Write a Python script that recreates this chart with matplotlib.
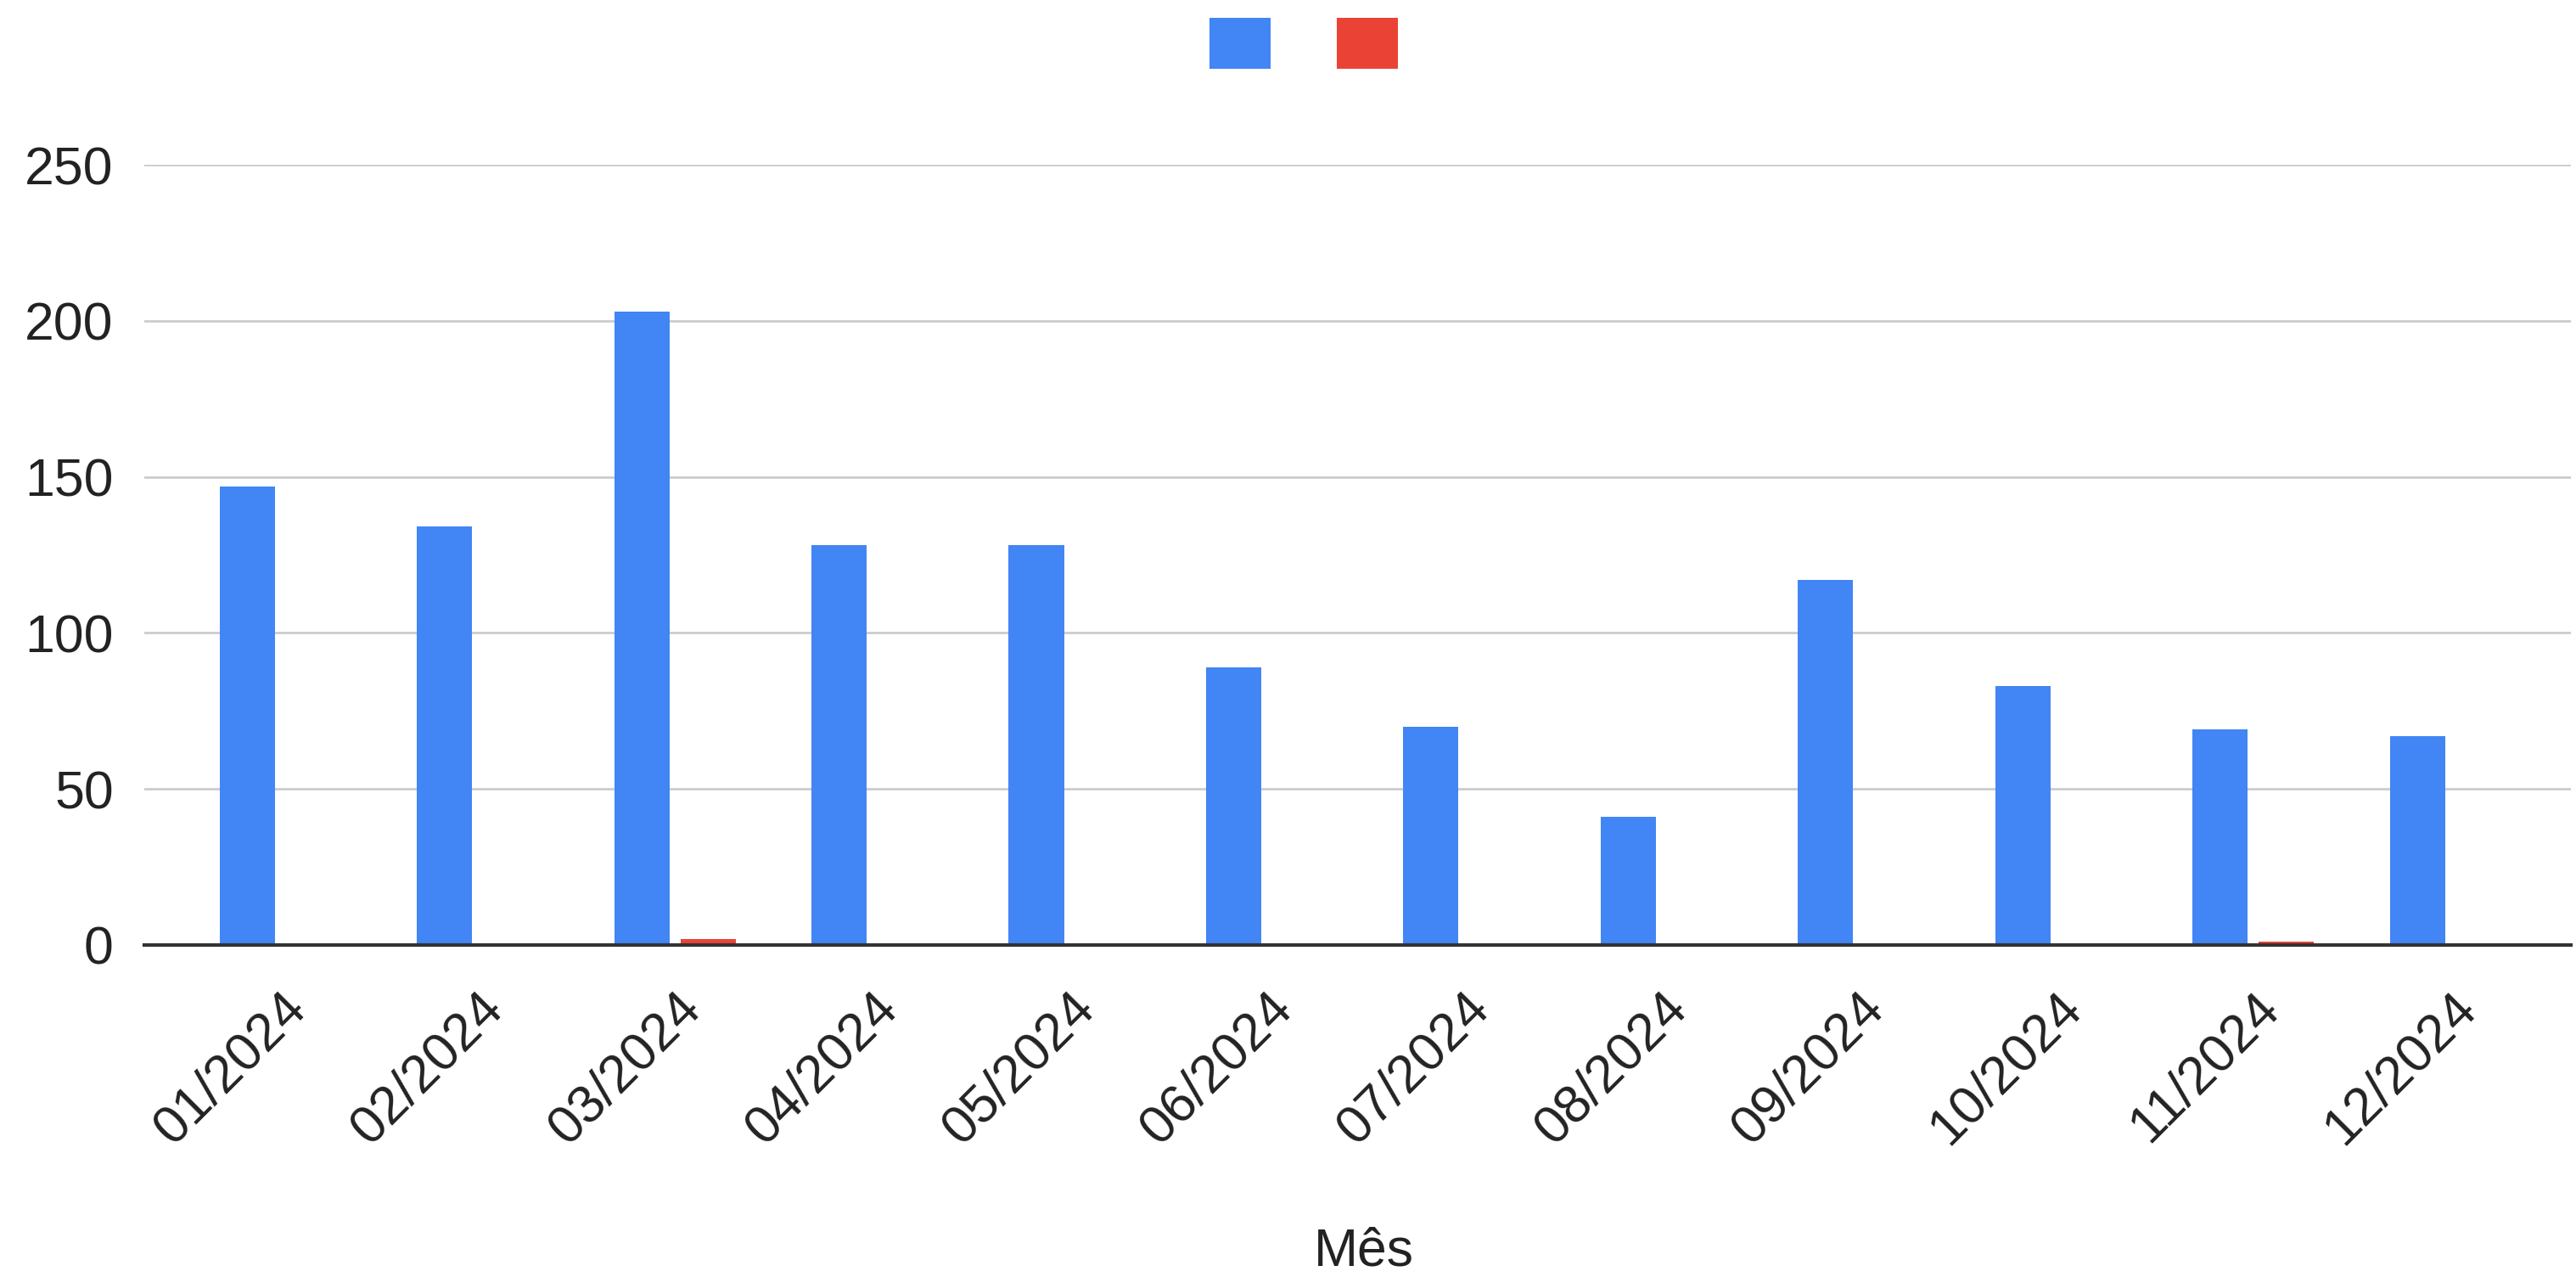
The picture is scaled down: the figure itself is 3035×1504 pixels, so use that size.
import matplotlib.pyplot as plt
import matplotlib.transforms as mtransforms
from matplotlib.patches import Patch
import numpy as np

plt.rcParams['font.family'] = ['Liberation Sans', 'DejaVu Sans']

meses = ['01/2024', '02/2024', '03/2024', '04/2024', '05/2024', '06/2024',
         '07/2024', '08/2024', '09/2024', '10/2024', '11/2024', '12/2024']
serie_azul = [147, 134, 203, 128, 128, 89, 70, 41, 117, 83, 69, 67]
serie_vermelha = [0, 0, 2, 0, 0, 0, 0, 0, 0, 0, 1, 0]
y_ticks = [0, 50, 100, 150, 200, 250]

azul = '#4285F4'
vermelho = '#EA4335'

fig = plt.figure(figsize=(30.35, 15.04), dpi=100)
ax = fig.add_axes([0.056, 0.26, 0.942, 0.611])

x = np.arange(len(meses))
w = 0.28
off = 0.168
ax.bar(x - off, serie_azul, width=w, color=azul, zorder=3)
ax.bar(x + off, serie_vermelha, width=w, color=vermelho, zorder=3)

ax.set_ylim(0, 250)
ax.set_xlim(-0.69, 11.61)
ax.set_yticks(y_ticks)
ax.set_yticklabels([str(v) for v in y_ticks], fontsize=45, color='#222222')
ax.tick_params(axis='y', length=0, pad=26)
ax.grid(axis='y', color='#cccccc', linewidth=2, zorder=0)

for s in ['top', 'right', 'left']:
    ax.spines[s].set_visible(False)
ax.spines['bottom'].set_color('#333333')
ax.spines['bottom'].set_linewidth(3)
ax.spines['bottom'].set_zorder(4)

ax.set_xticks(x)
ax.set_xticklabels(meses, fontsize=45, color='#222222', rotation=45,
                   ha='right', va='top', rotation_mode='anchor')
ax.tick_params(axis='x', length=0, pad=32)

fig.text(0.5295, 0.009, 'Mês', fontsize=45, color='#222222', ha='center', va='baseline')

handles = [Patch(facecolor=azul), Patch(facecolor=vermelho)]
fig.legend(handles, ['', ''], loc='upper center', bbox_to_anchor=(0.506, 1.012),
           ncol=2, frameon=False, handlelength=1.3, handleheight=1.3,
           fontsize=40, columnspacing=1.4, handletextpad=0, borderpad=0.2)

fig.savefig('out.png', dpi=100, facecolor='white')
